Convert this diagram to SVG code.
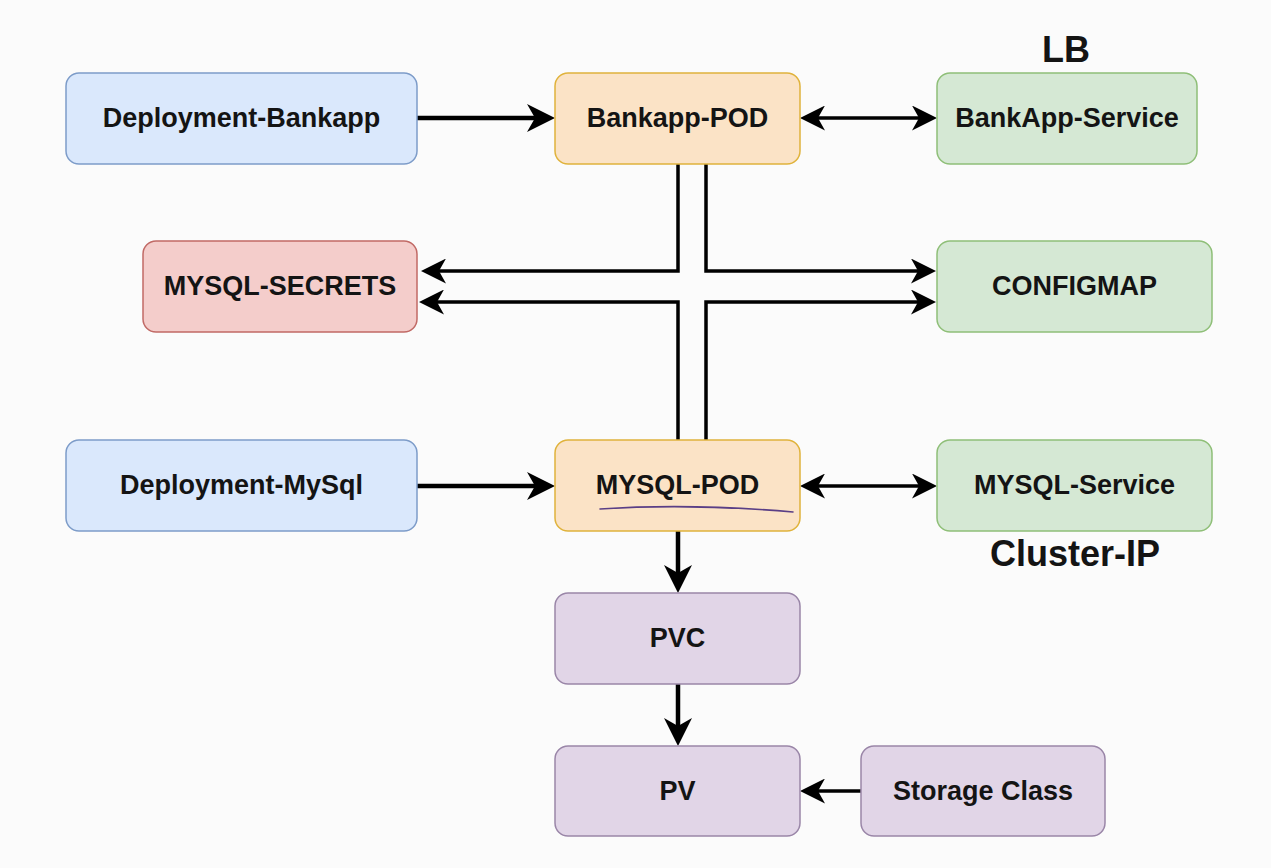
<svg xmlns="http://www.w3.org/2000/svg" width="1271" height="868" viewBox="0 0 1271 868">
<style>
.box{stroke-width:1.5}
.blue{fill:#dae8fc;stroke:#7d9cc9}
.orange{fill:#fbe3c6;stroke:#e0b33c}
.green{fill:#d5e8d4;stroke:#8fbf78}
.red{fill:#f4cdcb;stroke:#c16a66}
.purple{fill:#e1d5e7;stroke:#9a86a8}
.lbl{font-family:"Liberation Sans",Arial,sans-serif;font-weight:bold;font-size:27px;fill:#141414;text-anchor:middle}
.big{font-family:"Liberation Sans",Arial,sans-serif;font-weight:bold;font-size:36px;fill:#141414;text-anchor:middle}
.c4{fill:none;stroke:#000;stroke-width:4.5}
.c3{fill:none;stroke:#000;stroke-width:3.5}
</style>
<defs>
<marker id="ab" markerUnits="userSpaceOnUse" viewBox="0 0 28 28" markerWidth="28" markerHeight="28" refX="20" refY="14" orient="auto-start-reverse">
<path d="M0,0 L28,14 L0,28 L8,14 z" fill="#000"/>
</marker>
<marker id="am" markerUnits="userSpaceOnUse" viewBox="0 0 25 25" markerWidth="25" markerHeight="25" refX="18" refY="12.5" orient="auto-start-reverse">
<path d="M0,0 L25,12.5 L0,25 L7,12.5 z" fill="#000"/>
</marker>
</defs>
<rect width="1271" height="868" fill="#fbfbfb"/>
<g id="connectors">
<path class="c4" d="M417,118 H547" marker-end="url(#ab)"/>
<path class="c3" d="M807,118 H930" marker-start="url(#am)" marker-end="url(#am)"/>
<path class="c3" d="M678,164 V271 H428" marker-end="url(#am)"/>
<path class="c3" d="M706,164 V271 H929" marker-end="url(#am)"/>
<path class="c3" d="M678,440 V302 H426" marker-end="url(#am)"/>
<path class="c3" d="M706,440 V302 H929" marker-end="url(#am)"/>
<path class="c4" d="M417,486 H547" marker-end="url(#ab)"/>
<path class="c3" d="M807,486 H930" marker-start="url(#am)" marker-end="url(#am)"/>
<path class="c4" d="M678,531 V585" marker-end="url(#ab)"/>
<path class="c4" d="M678,684 V738" marker-end="url(#ab)"/>
<path class="c3" d="M861,791 H807" marker-end="url(#am)"/>
</g>
<g id="deployment-bankapp"><rect class="box blue" x="66" y="73" width="351" height="91" rx="13"/><text class="lbl" x="241.5" y="127">Deployment-Bankapp</text></g>
<g id="bankapp-pod"><rect class="box orange" x="555" y="73" width="245" height="91" rx="13"/><text class="lbl" x="677.5" y="127">Bankapp-POD</text></g>
<g id="bankapp-service"><rect class="box green" x="937" y="73" width="260" height="91" rx="13"/><text class="lbl" x="1067" y="127">BankApp-Service</text></g>
<g id="lb-label"><text class="big" x="1066" y="62">LB</text></g>
<g id="mysql-secrets"><rect class="box red" x="143" y="241" width="274" height="91" rx="13"/><text class="lbl" x="280" y="295">MYSQL-SECRETS</text></g>
<g id="configmap"><rect class="box green" x="937" y="241" width="275" height="91" rx="13"/><text class="lbl" x="1074.5" y="295">CONFIGMAP</text></g>
<g id="deployment-mysql"><rect class="box blue" x="66" y="440" width="351" height="91" rx="13"/><text class="lbl" x="241.5" y="494">Deployment-MySql</text></g>
<g id="mysql-pod"><rect class="box orange" x="555" y="440" width="245" height="91" rx="13"/><text class="lbl" x="677.5" y="494">MYSQL-POD</text><path d="M600,509 Q690,503 793,512" fill="none" stroke="#5a3f86" stroke-width="1.6" stroke-linecap="round"/></g>
<g id="mysql-service"><rect class="box green" x="937" y="440" width="275" height="91" rx="13"/><text class="lbl" x="1074.5" y="494">MYSQL-Service</text></g>
<g id="cluster-ip-label"><text class="big" x="1075" y="566">Cluster-IP</text></g>
<g id="pvc"><rect class="box purple" x="555" y="593" width="245" height="91" rx="13"/><text class="lbl" x="677.5" y="647">PVC</text></g>
<g id="pv"><rect class="box purple" x="555" y="746" width="245" height="90" rx="13"/><text class="lbl" x="677.5" y="800">PV</text></g>
<g id="storage-class"><rect class="box purple" x="861" y="746" width="244" height="90" rx="13"/><text class="lbl" x="983" y="800">Storage Class</text></g>
</svg>
